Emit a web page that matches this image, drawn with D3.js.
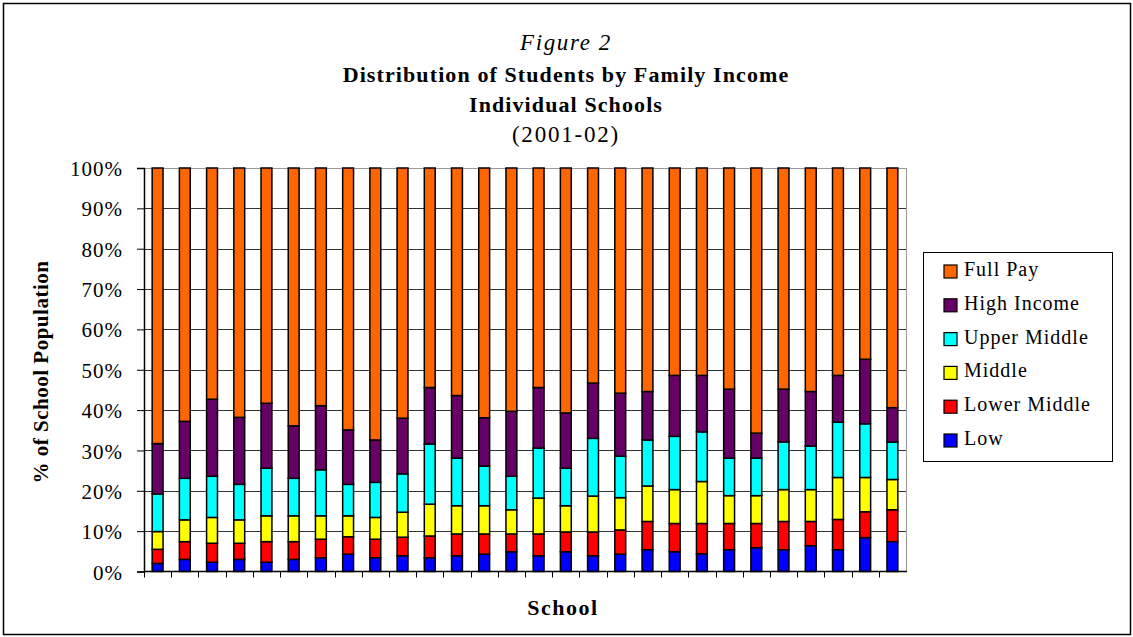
<!DOCTYPE html>
<html>
<head>
<meta charset="utf-8">
<script src="https://cdn.jsdelivr.net/npm/d3@7"></script>
<style>
  body { margin: 0; background: #fff; }
  svg text { font-family: "Liberation Serif", "Tinos", "DejaVu Serif", serif; fill: #000; }
</style>
</head>
<body>
<svg id="chart" width="1133" height="637"></svg>
<script>
// schools 1..28, values in % of school population
const schools = d3.range(1, 29).map(String);
const seriesNames = ["Low", "Lower Middle", "Middle", "Upper Middle", "High Income", "Full Pay"];
const colors = ["#0000FF", "#FF0000", "#FFFF00", "#00FFFF", "#660066", "#FF6600"];

const low         = [2.0, 3.0, 2.3, 3.0, 2.3, 3.0, 3.4, 4.3, 3.4, 3.9, 3.4, 3.9, 4.3, 4.9, 3.9, 4.9, 3.9, 4.3, 5.4, 4.9, 4.4, 5.4, 5.9, 5.4, 6.4, 5.4, 8.4, 7.4];
const lowerMiddle = [3.5, 4.4, 4.7, 4.0, 5.1, 4.4, 4.6, 4.3, 4.6, 4.6, 5.4, 5.4, 5.0, 4.4, 5.4, 4.9, 5.9, 6.0, 7.0, 7.0, 7.5, 6.5, 6.0, 7.0, 6.0, 7.5, 6.4, 7.9];
const middle      = [4.4, 5.4, 6.4, 5.8, 6.4, 6.4, 5.8, 5.2, 5.4, 6.2, 7.9, 7.0, 7.0, 6.0, 8.9, 6.5, 8.9, 8.0, 8.8, 8.4, 10.4, 6.9, 6.9, 7.9, 7.9, 10.4, 8.5, 7.5];
const upperMiddle = [9.3, 10.3, 10.2, 8.8, 11.8, 9.3, 11.4, 7.8, 8.7, 9.5, 14.9, 11.8, 9.8, 8.3, 12.4, 9.3, 14.3, 10.3, 11.4, 13.2, 12.3, 9.3, 9.3, 11.8, 10.8, 13.7, 13.3, 9.3];
const highIncome  = [12.5, 14.1, 19.1, 16.6, 16.1, 13.0, 15.9, 13.5, 10.5, 13.8, 14.0, 15.5, 12.0, 16.1, 15.0, 13.7, 13.7, 15.6, 12.0, 15.1, 14.0, 17.1, 6.2, 13.1, 13.5, 11.6, 16.0, 8.5];
const fullPay     = [68.3, 62.8, 57.3, 61.8, 58.3, 63.9, 58.9, 64.9, 67.4, 62.0, 54.4, 56.4, 61.9, 60.3, 54.4, 60.7, 53.3, 55.8, 55.4, 51.4, 51.4, 54.8, 65.7, 54.8, 55.4, 51.4, 47.4, 59.4];
const yTicks = [0, 10, 20, 30, 40, 50, 60, 70, 80, 90, 100];

const svg = d3.select("#chart");

// outer frame
svg.append("rect")
    .attr("x", 3.5).attr("y", 3.5)
    .attr("width", 1127).attr("height", 631)
    .attr("fill", "#fff")
    .attr("stroke", "#000")
    .attr("stroke-width", 1.5);

const plotLeft = 144, plotRight = 906, plotTop = 168, plotBottom = 571.5;

const x = d3.scaleBand().domain(schools).range([plotLeft, plotRight]).paddingInner(0.6).paddingOuter(0.3);
const y = d3.scaleLinear().domain([0, 100]).range([plotBottom, plotTop]);

// table for the stack
const table = schools.map((s, i) => ({
    school: s,
    "Low": low[i],
    "Lower Middle": lowerMiddle[i],
    "Middle": middle[i],
    "Upper Middle": upperMiddle[i],
    "High Income": highIncome[i],
    "Full Pay": fullPay[i]
}));
const stacked = d3.stack().keys(seriesNames)(table);

// gridlines
svg.append("g")
    .selectAll("line")
    .data(yTicks.filter(d => d > 0))
    .join("line")
    .attr("x1", plotLeft).attr("x2", plotRight)
    .attr("y1", d => Math.round(y(d)) + 0.5).attr("y2", d => Math.round(y(d)) + 0.5)
    .attr("stroke", d => d === 100 ? "#999" : "#333")
    .attr("stroke-width", 1);

// plot border right
svg.append("line")
    .attr("x1", plotRight + 0.5).attr("x2", plotRight + 0.5)
    .attr("y1", plotTop).attr("y2", plotBottom)
    .attr("stroke", "#999");

// bars
svg.append("g")
    .selectAll("g")
    .data(stacked)
    .join("g")
    .attr("fill", (d, i) => colors[i])
    .selectAll("rect")
    .data(d => d)
    .join("rect")
    .attr("x", d => x(d.data.school))
    .attr("y", d => y(d[1]))
    .attr("width", x.bandwidth())
    .attr("height", d => y(d[0]) - y(d[1]))
    .attr("stroke", "#000")
    .attr("stroke-width", 1.5);

// y axis
const yAxis = svg.append("g")
    .attr("transform", `translate(${plotLeft},0)`)
    .call(d3.axisLeft(y).tickValues(yTicks).tickFormat(d => d + "%").tickSize(7).tickPadding(14));
yAxis.attr("font-family", null);
yAxis.select(".domain").attr("stroke", "#000").attr("stroke-width", 1.5);
yAxis.selectAll(".tick line").attr("stroke", "#000");
yAxis.selectAll("text").style("font-size", "21px").style("letter-spacing", "1px").attr("dy", "0.36em");

// x axis: ticks between the schools, no labels
const xAxis = svg.append("g")
    .attr("transform", `translate(0,${plotBottom})`);
xAxis.append("line")
    .attr("x1", plotLeft).attr("x2", plotRight + 1)
    .attr("stroke", "#000").attr("stroke-width", 1.5);
xAxis.selectAll("line.tk")
    .data(schools)
    .join("line")
    .attr("class", "tk")
    .attr("x1", d => Math.round(x(d) - x.step() * x.paddingInner() / 2) + 0.5)
    .attr("x2", d => Math.round(x(d) - x.step() * x.paddingInner() / 2) + 0.5)
    .attr("y1", 0).attr("y2", 6)
    .attr("stroke", "#000");

// titles
const cx = 566;
svg.append("text").attr("x", cx).attr("y", 50).attr("text-anchor", "middle")
    .style("font-size", "23px").style("font-style", "italic").style("letter-spacing", "1.6px")
    .text("Figure 2");
svg.append("text").attr("x", cx).attr("y", 82).attr("text-anchor", "middle")
    .style("font-size", "22px").style("font-weight", "bold").style("letter-spacing", "1.1px")
    .text("Distribution of Students by Family Income");
svg.append("text").attr("x", cx).attr("y", 112).attr("text-anchor", "middle")
    .style("font-size", "22px").style("font-weight", "bold").style("letter-spacing", "1.1px")
    .text("Individual Schools");
svg.append("text").attr("x", cx).attr("y", 142).attr("text-anchor", "middle")
    .style("font-size", "23px").style("letter-spacing", "1.8px")
    .text("(2001-02)");

svg.append("text").attr("x", 563).attr("y", 615).attr("text-anchor", "middle")
    .style("font-size", "22px").style("font-weight", "bold").style("letter-spacing", "1.5px")
    .text("School");

svg.append("text")
    .attr("transform", "translate(48,372) rotate(-90)")
    .attr("text-anchor", "middle")
    .style("font-size", "21px").style("font-weight", "bold").style("letter-spacing", "0.5px")
    .text("% of School Population");

// legend, top item is Full Pay
const legend = svg.append("g");
legend.append("rect")
    .attr("x", 923.5).attr("y", 252.5)
    .attr("width", 189).attr("height", 209)
    .attr("fill", "#fff").attr("stroke", "#000");

const legendItems = seriesNames.slice().reverse();
const li = legend.selectAll("g.item")
    .data(legendItems)
    .join("g")
    .attr("class", "item")
    .attr("transform", (d, i) => `translate(944,${276 + i * 33.8})`);
li.append("rect")
    .attr("x", 0).attr("y", -11)
    .attr("width", 13).attr("height", 13)
    .attr("fill", d => colors[seriesNames.indexOf(d)])
    .attr("stroke", "#000").attr("stroke-width", 1.2);
li.append("text")
    .attr("x", 20).attr("y", 0)
    .style("font-size", "20px").style("letter-spacing", "1px")
    .text(d => d);
</script>
</body>
</html>
